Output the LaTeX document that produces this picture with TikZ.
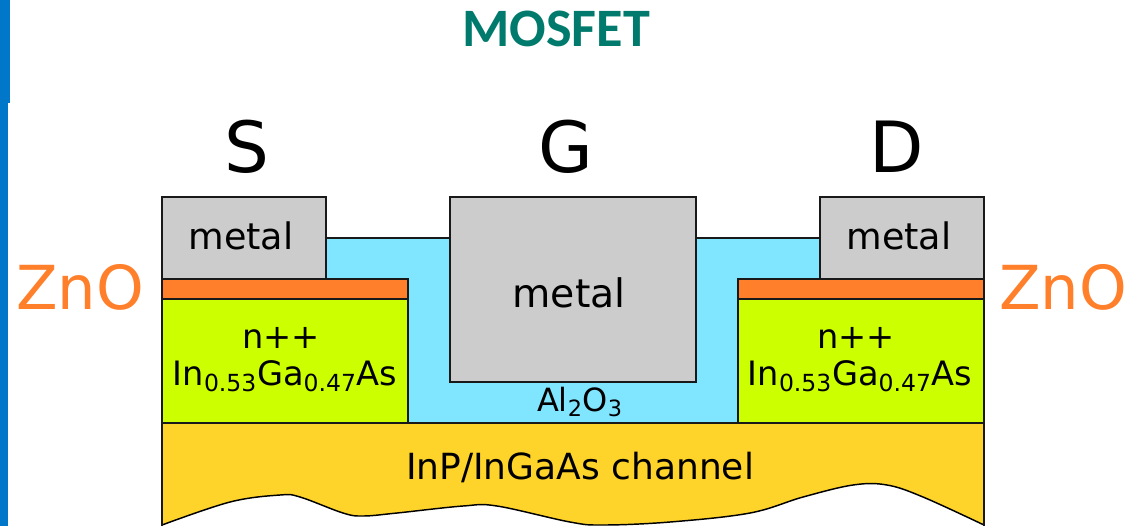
\documentclass[tikz,border=0pt]{standalone}
\usepackage{fontspec}
\setmainfont{DejaVu Sans}
\newfontfamily\titlefont{Carlito}
\definecolor{barblue}{HTML}{0077C8}
\definecolor{titlegreen}{HTML}{007A6C}
\definecolor{metalgrey}{HTML}{CCCCCC}
\definecolor{oxidecyan}{HTML}{80E5FF}
\definecolor{znoorange}{HTML}{FF7F2A}
\definecolor{dopedgreen}{HTML}{CCFF00}
\definecolor{channelyellow}{HTML}{FFD42A}
\tikzset{
  layer/.style={draw=black!90, line width=1.5pt},
  lbl/.style={anchor=base, inner sep=0pt, text=black},
  termlbl/.style={lbl, font=\fontsize{53}{53}\selectfont},
  metallbl/.style={lbl, font=\fontsize{27.4}{27.4}\selectfont},
  dopedlbl/.style={lbl, font=\fontsize{25.2}{25.2}\selectfont},
  znolbl/.style={lbl, text=znoorange, font=\fontsize{45.5}{45.5}\selectfont}
}
\begin{document}
\begin{tikzpicture}[x=0.75pt, y=-0.75pt]
    \useasboundingbox (0, 0) rectangle (1127, 526);
    \fill[barblue] (0, 0) rectangle (10, 103);
    \fill[barblue] (0, 103) rectangle (8, 526);
    \node[lbl, text=titlegreen, font=\titlefont\bfseries\fontsize{40.6}{40.6}\selectfont] (title) at (556, 46) {MOSFET};
    % oxide under the gate
    \draw[layer, fill=oxidecyan] (326, 238) -- (820, 238) -- (820, 279) -- (738, 279) -- (738, 423) -- (408, 423) -- (408, 279) -- (326, 279) -- cycle;
    % channel
    \begin{scope}
    \clip (0, 0) rectangle (1127, 526);
    \fill[channelyellow] (162, 423) -- (984, 423) -- (984, 525) -- plot[smooth, tension=0.6] coordinates {(984, 525) (923, 497) (887, 485) (853, 485) (803, 497) (750, 513) (670, 522) (603, 525) (570, 522) (497, 506) (463, 506) (397, 513) (363, 516) (343, 513) (300, 497) (280, 495) (230, 502) (162, 525)} -- cycle;
    \draw[black, line width=1.1pt] plot[smooth, tension=0.6] coordinates {(984, 525) (923, 497) (887, 485) (853, 485) (803, 497) (750, 513) (670, 522) (603, 525) (570, 522) (497, 506) (463, 506) (397, 513) (363, 516) (343, 513) (300, 497) (280, 495) (230, 502) (162, 525)};
    \draw[layer] (162, 526) -- (162, 423) -- (984, 423) -- (984, 526);
    \end{scope}
    % source and drain stacks
    \draw[layer, fill=dopedgreen] (162, 299) rectangle (408, 423);
    \draw[layer, fill=dopedgreen] (738, 299) rectangle (984, 423);
    \draw[layer, fill=znoorange] (162, 279) rectangle (408, 299);
    \draw[layer, fill=znoorange] (738, 279) rectangle (984, 299);
    \draw[layer, fill=metalgrey] (162, 197) rectangle (326, 279);
    \draw[layer, fill=metalgrey] (820, 197) rectangle (984, 279);
    \draw[layer, fill=metalgrey] (450, 197) rectangle (696, 382);
    % labels
    \node[termlbl] (slbl) at (247, 172) {S};
    \node[termlbl] (glbl) at (566, 172) {G};
    \node[termlbl] (dlbl) at (897, 172) {D};
    \node[metallbl] (smetal) at (241, 249) {metal};
    \node[metallbl] (dmetal) at (899, 249) {metal};
    \node[metallbl, font=\fontsize{29.5}{29.5}\selectfont] (gmetal) at (569, 307) {metal};
    \node[znolbl] (zl) at (80, 309) {ZnO};
    \node[znolbl] (zr) at (1063, 309) {ZnO};
    \node[dopedlbl] (ndl) at (281, 348) {n++};
    \node[dopedlbl] (ndr) at (856, 348) {n++};
    \node[dopedlbl] (ingal) at (285, 385) {In\textsubscript{0.53}Ga\textsubscript{0.47}As};
    \node[dopedlbl] (ingar) at (860, 385) {In\textsubscript{0.53}Ga\textsubscript{0.47}As};
    \node[metallbl, font=\fontsize{24}{24}\selectfont] (oxlbl) at (580, 411) {Al\textsubscript{2}O\textsubscript{3}};
    \node[metallbl, font=\fontsize{27}{27}\selectfont] (chlbl) at (580, 479) {InP/InGaAs channel};
\end{tikzpicture}
\end{document}
